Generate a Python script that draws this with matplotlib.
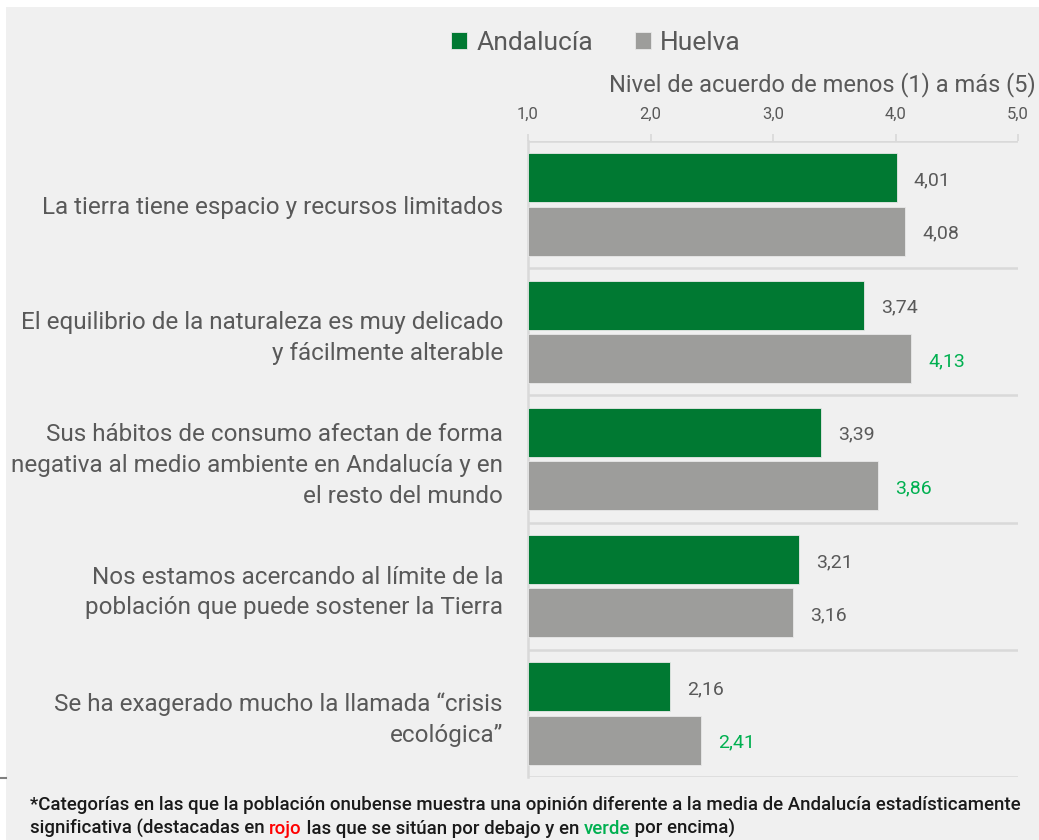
import matplotlib
matplotlib.use("Agg")
import matplotlib.pyplot as plt
from matplotlib.patches import Rectangle
from matplotlib.lines import Line2D
import numpy as np

categories = [
    "La tierra tiene espacio y recursos limitados",
    "El equilibrio de la naturaleza es muy delicado\ny fácilmente alterable",
    "Sus hábitos de consumo afectan de forma\nnegativa al medio ambiente en Andalucía y en\nel resto del mundo",
    "Nos estamos acercando al límite de la\npoblación que puede sostener la Tierra",
    "Se ha exagerado mucho la llamada “crisis\necológica”",
]
andalucia = [4.01, 3.74, 3.39, 3.21, 2.16]
huelva = [4.08, 4.13, 3.86, 3.16, 2.41]
# significance of Huelva vs Andalucía: 1 above, -1 below, 0 none
huelva_sig = [0, 1, 1, 0, 1]
xticks = [1, 2, 3, 4, 5]

GREEN = "#007932"
GRAY = "#9d9d9b"
TXT = "#595959"
UP = "#00b050"
DOWN = "#ff0000"
BG = "#f0f0f0"
GRID = "#d9d9d9"

plt.rcParams["font.family"] = ["Roboto", "DejaVu Sans"]

fig = plt.figure(figsize=(10.39, 8.40), dpi=100, facecolor="white")
fig.add_artist(Rectangle((6 / 1039, 0), 1, 1 - 7 / 840, transform=fig.transFigure,
                         facecolor=BG, edgecolor="none", zorder=-10))
fig.add_artist(Line2D([0, 6 / 1039], [1 - 778 / 840] * 2, transform=fig.transFigure,
                      color="#7f7f7f", lw=1.5))

ax = fig.add_axes([528 / 1039, 1 - 777 / 840, 490 / 1039, 636 / 840])
ax.set_facecolor(BG)

y = np.arange(len(categories))
h = 0.385
off = 0.21
ax.barh(y - off, np.array(andalucia) - 1, left=1, height=h, color=GREEN,
        edgecolor="#e8e8e8", linewidth=0.6, label="Andalucía", zorder=3)
ax.barh(y + off, np.array(huelva) - 1, left=1, height=h, color=GRAY,
        edgecolor="#e8e8e8", linewidth=0.6, label="Huelva", zorder=3)

for i in range(len(categories)):
    ax.text(andalucia[i] + 0.14, y[i] - off + 0.02, f"{andalucia[i]:.2f}".replace(".", ","),
            ha="left", va="center", fontsize=14, color=TXT)
    c = {0: TXT, 1: UP, -1: DOWN}[huelva_sig[i]]
    ax.text(huelva[i] + 0.14, y[i] + off + 0.02, f"{huelva[i]:.2f}".replace(".", ","),
            ha="left", va="center", fontsize=14, color=c)

ax.set_xlim(1, 5)
ax.set_ylim(len(categories) - 0.5, -0.5)
ax.xaxis.tick_top()
ax.set_xticks(xticks)
ax.set_xticklabels([f"{t:.1f}".replace(".", ",") for t in xticks], fontsize=12, color=TXT)
ax.tick_params(axis="x", direction="out", length=5, width=1.2, color=GRID, pad=9)
ax.set_yticks(y)
ax.set_yticklabels(categories, fontsize=17.5, color=TXT, linespacing=1.43)
ax.tick_params(axis="y", length=0, pad=18)

for b in np.arange(-0.5, len(categories), 1.0):
    ax.axhline(b, color=GRID, lw=1.8, zorder=1)
for s in ["right", "bottom", "top"]:
    ax.spines[s].set_visible(False)
ax.spines["left"].set_color(GRID)
ax.spines["left"].set_linewidth(1.8)

fig.text(1036 / 1039, 1 - 85 / 840, "Nivel de acuerdo de menos (1) a más (5)",
         ha="right", va="center", fontsize=17, color=TXT)

fig.legend(loc="center", bbox_to_anchor=(596 / 1039, 1 - 43 / 840), ncol=2,
           frameon=False, fontsize=19, labelcolor=TXT, handlelength=0.6,
           handleheight=0.6, handletextpad=0.35, columnspacing=1.58)

# footnote with coloured words
line1 = "*Categorías en las que la población onubense muestra una opinión diferente a la media de Andalucía estadísticamente"
fig.text(30 / 1039, 1 - 805 / 840, line1, ha="left", va="center",
         fontsize=13.4, color="#1a1a1a", weight="medium")
line2 = [("significativa (destacadas en ", "#1a1a1a"), ("rojo", DOWN),
         (" las que se sitúan por debajo y en ", "#1a1a1a"), ("verde", UP),
         (" por encima)", "#1a1a1a")]
prev = fig.text(30 / 1039, 1 - 828 / 840, line2[0][0], ha="left", va="center",
                fontsize=13.4, color=line2[0][1], weight="medium")
for t, c in line2[1:]:
    prev = plt.annotate(t, xy=(1, 0), xycoords=prev, va="bottom", ha="left",
                        fontsize=13.4, color=c, weight="medium", annotation_clip=False)

fig.savefig("out.png", dpi=100, facecolor=fig.get_facecolor())
